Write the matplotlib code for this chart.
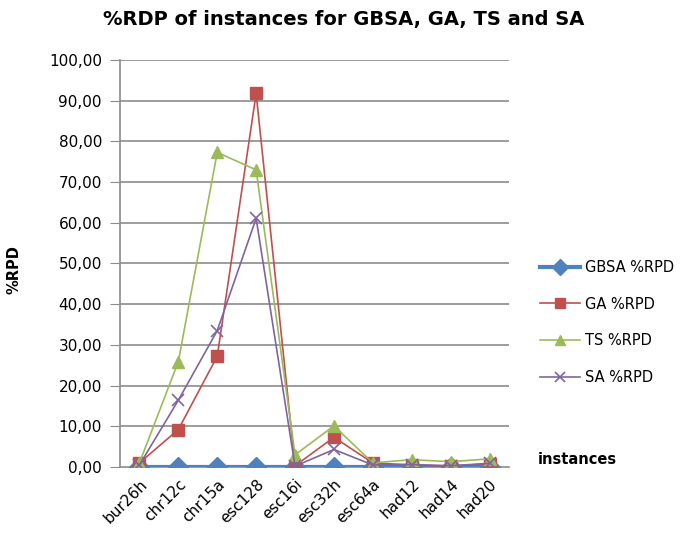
import numpy as np
import matplotlib.pyplot as plt
from matplotlib.ticker import FuncFormatter

instances = ['bur26h', 'chr12c', 'chr15a', 'esc128', 'esc16i',
             'esc32h', 'esc64a', 'had12', 'had14', 'had20']
gbsa = [0, 0, 0, 0, 0, 0, 0, 0, 0, 0]
ga = [1.0, 9.2, 27.2, 91.8, 0.3, 7.3, 1.0, 0.5, 0.2, 0.8]
ts = [1.0, 25.9, 77.3, 73.0, 3.0, 10.1, 1.0, 1.8, 1.3, 2.0]
sa = [0.5, 16.4, 33.5, 61.1, 0.2, 4.3, 0.5, 0.6, 0.3, 0.9]

fig = plt.figure(figsize=(6.88, 5.46), dpi=100)
ax = fig.add_axes([0.1744, 0.1447, 0.5654, 0.7454])

x = np.arange(len(instances))
grid_c = '#8c8c8c'
for v in range(10, 101, 10):
    ax.axhline(v, color=grid_c, lw=1.2, zorder=0)

ax.plot(x, gbsa, color='#4F81BD', lw=3, marker='D', ms=10, label='GBSA %RPD', zorder=3)
ax.plot(x, ga, color='#C0504D', lw=1.2, marker='s', ms=9, label='GA %RPD', zorder=4)
ax.plot(x, ts, color='#9BBB59', lw=1.2, marker='^', ms=9, label='TS %RPD', zorder=5)
ax.plot(x, sa, color='#8064A2', lw=1.2, marker='x', ms=9, mew=1.2, label='SA %RPD', zorder=6)

ax.set_xlim(-0.5, len(instances) - 0.5)
ax.set_ylim(0, 100)
ax.set_yticks(range(0, 101, 10))
ax.yaxis.set_major_formatter(FuncFormatter(lambda v, p: f'{v:.2f}'.replace('.', ',')))
ax.set_xticks(x)
ax.set_xticklabels(instances, rotation=45, ha='right', rotation_mode='anchor')
ax.tick_params(axis='y', length=7, color=grid_c, labelsize=11, pad=6)
ax.tick_params(axis='x', length=0, labelsize=11, pad=7)

for s in ['top', 'right']:
    ax.spines[s].set_visible(False)
ax.spines['left'].set_color(grid_c)
ax.spines['left'].set_linewidth(1.2)
ax.spines['bottom'].set_color(grid_c)
ax.spines['bottom'].set_linewidth(1.2)

ax.set_ylabel('%RPD', fontweight='bold', fontsize=10.5)
ax.yaxis.set_label_coords(-0.252, 0.484)
fig.text(0.5, 0.965, '%RDP of instances for GBSA, GA, TS and SA',
         ha='center', va='center', fontsize=14, fontweight='bold')
fig.text(0.782, 0.158, 'instances', ha='left', va='center',
         fontsize=10.5, fontweight='bold')

ax.legend(loc='center left', bbox_to_anchor=(1.045, 0.355), frameon=False,
          fontsize=10.5, handlelength=2.8, labelspacing=1.5, handletextpad=0.3,
          markerscale=0.8)

fig.savefig('out.png', dpi=100)
